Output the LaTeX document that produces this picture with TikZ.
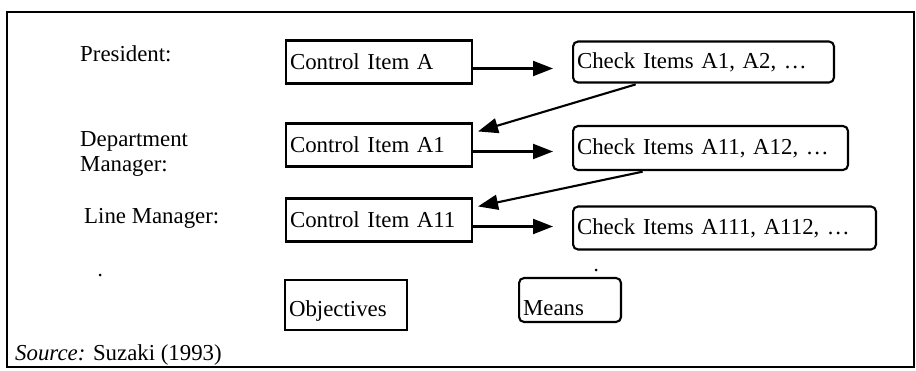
\documentclass[tikz,border=0pt]{standalone}
\usepackage{fontspec}
\setmainfont{Liberation Serif}
\usepackage{tikz}
\usetikzlibrary{arrows.meta}

\begin{document}
\begin{tikzpicture}[x=0.02cm, y=-0.02cm, font=\fontsize{13}{12.5}\selectfont,
    ctrlbox/.style={draw, line width=1.2pt, inner sep=0.08cm, align=left},
    chkbox/.style={draw, line width=1.2pt, rounded corners=0.1cm, inner sep=0.08cm, align=left, anchor=west},
    arr/.style={line width=1.2pt, -{Triangle[length=0.4cm, width=0.3cm]}}]
          \useasboundingbox[fill=white] (0,0) rectangle (916,371);
          \draw[line width=1pt] (7,12) rectangle (914,367);

          % Levels
          \node[anchor=west] (lvl1) at (74,54) {President:};
          \node[anchor=west, align=left] (lvl2) at (74,154) {Department\\[1.5pt]Manager:};
          \node[anchor=west] (lvl3) at (78,218) {Line Manager:};

          % Control items
          \node[ctrlbox, text width=3.56cm, minimum height=0.86cm] (ctrl1) at (379,62) {Control Item A};
          \node[ctrlbox, text width=3.56cm, minimum height=0.86cm] (ctrl2) at (379,145) {Control Item A1};
          \node[ctrlbox, text width=3.56cm, minimum height=0.86cm] (ctrl3) at (379,220) {Control Item A11};

          % Check items
          \node[chkbox, text width=5.06cm, minimum height=0.82cm] (chk1) at (572,62) {Check Items A1, A2, \dots};
          \node[chkbox, text width=5.34cm, minimum height=0.88cm] (chk2) at (572,148) {Check Items A11, A12, \dots};
          \node[chkbox, text width=5.90cm, minimum height=0.86cm] (chk3) at (572,228) {Check Items A111, A112, \dots};

          % Legend
          \node[ctrlbox, text width=2.28cm, text height=0.70cm, text depth=0.22cm, inner ysep=0.04cm] (obj) at (346,305) {Objectives};
          \node[chkbox, text width=1.88cm, text height=0.72cm, text depth=0.08cm, inner ysep=0.04cm] (means) at (518,300) {Means};

          % Control item -> check items
          \foreach \i in {1,2,3} {
            \draw[arr, shorten >=0.38cm] ([yshift=-0.13cm]ctrl\i.east) -- ([yshift=-0.13cm]ctrl\i.east -| chk\i.west);
          }
          % Check items -> next control item
          \foreach \i in {1,2} {
            \pgfmathtruncatemacro{\next}{\i + 1}
            \draw[arr, shorten <=0.06cm] ([xshift=-1.3cm]chk\i.south) -- ([xshift=0.1cm, yshift=-0.18cm]ctrl\next.north east);
          }

          \fill (100,275) circle (1.5);
          \fill (596,270) circle (1.5);

          \node[anchor=west] (src) at (9,355) {\textit{Source:} Suzaki (1993)};
    \end{tikzpicture}
\end{document}
